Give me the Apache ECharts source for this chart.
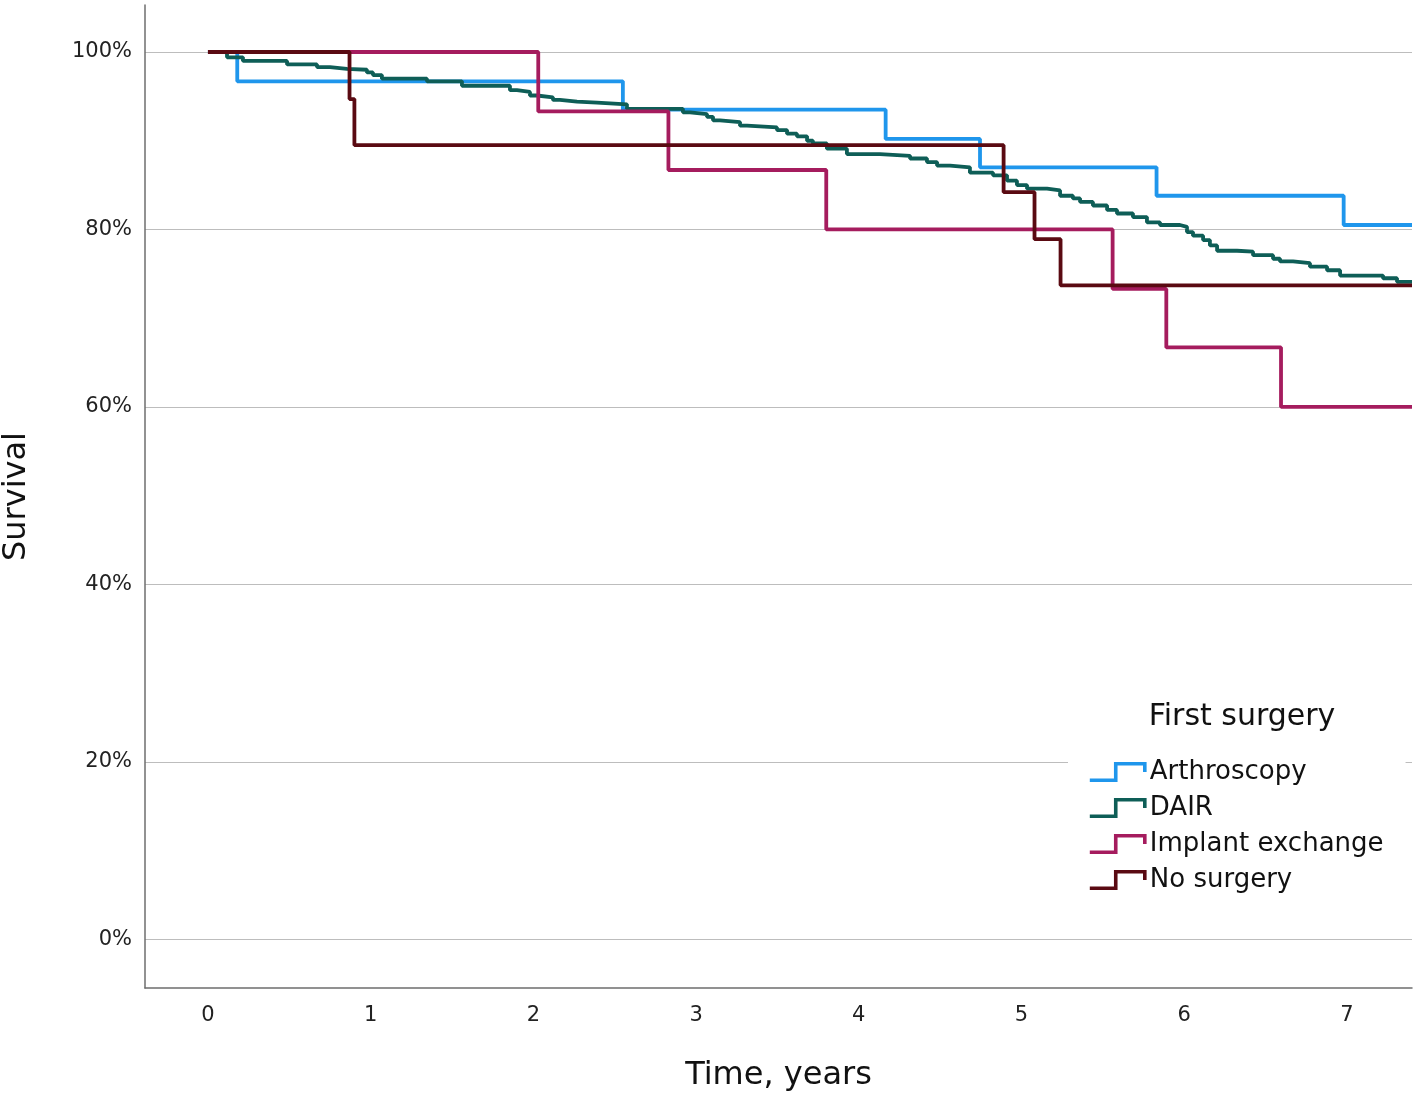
<!DOCTYPE html>
<html>
<head>
<meta charset="utf-8">
<script src="https://cdn.jsdelivr.net/npm/echarts@6/dist/echarts.min.js"></script>
<style>
  html, body { margin: 0; padding: 0; background: #fff; }
  #main { width: 1416px; height: 1102px; }
</style>
</head>
<body>
<div id="main"></div>
<script>
// group names and colours
var groups = ['Arthroscopy', 'DAIR', 'Implant exchange', 'No surgery'];
var colors = ['#1f96ec', '#0e5e57', '#a51c5e', '#5a0a12'];

// survival curves (time in years, survival in %)
var arthTime = [0, 0.18, 2.55, 4.165, 4.745, 5.83, 6.98, 7.4];
var arthSurv = [100, 96.7, 93.5, 90.2, 87.0, 83.8, 80.5, 80.5];

var dairTime = [0, 0.117, 0.215, 0.486, 0.670, 0.750, 0.854, 0.977, 1.014, 1.069, 1.346, 1.561,
  1.856, 1.899, 1.979, 2.022, 2.120, 2.163, 2.268, 2.391, 2.575, 2.919, 2.963, 3.067, 3.104,
  3.147, 3.270, 3.313, 3.497, 3.559, 3.620, 3.682, 3.718, 3.804, 3.927, 4.130, 4.315, 4.419,
  4.481, 4.561, 4.683, 4.825, 4.911, 4.972, 5.034, 5.157, 5.237, 5.316, 5.360, 5.439, 5.526,
  5.587, 5.685, 5.771, 5.851, 5.974, 6.017, 6.054, 6.116, 6.158, 6.202, 6.325, 6.423, 6.546,
  6.589, 6.669, 6.773, 6.878, 6.958, 7.222, 7.308, 7.4];
var dairSurv = [100, 99.4, 99.0, 98.6, 98.3, 98.1, 98.0, 97.7, 97.4, 97.0, 96.7, 96.2,
  95.7, 95.5, 95.1, 94.9, 94.6, 94.4, 94.3, 94.1, 93.6, 93.2, 93.0, 92.7, 92.3,
  92.1, 91.7, 91.5, 91.2, 90.8, 90.5, 90.0, 89.7, 89.1, 88.5, 88.3, 88.0, 87.6,
  87.2, 87.0, 86.4, 86.1, 85.5, 85.0, 84.6, 84.4, 83.8, 83.5, 83.1, 82.7, 82.2,
  81.8, 81.4, 80.8, 80.5, 80.3, 79.7, 79.3, 78.8, 78.2, 77.6, 77.5, 77.1, 76.7,
  76.4, 76.2, 75.8, 75.4, 74.8, 74.5, 74.1, 74.1];

var implTime = [0, 2.03, 2.83, 3.80, 5.56, 5.89, 6.595, 7.4];
var implSurv = [100, 93.3, 86.7, 80.0, 73.3, 66.7, 60.0, 60.0];

var noneTime = [0, 0.87, 0.90, 4.89, 5.08, 5.24, 7.4];
var noneSurv = [100, 94.7, 89.5, 84.2, 78.9, 73.7, 73.7];

// axis ticks
var xTicks = [0, 1, 2, 3, 4, 5, 6, 7];
var yTicks = [0, 20, 40, 60, 80, 100];

function pairs(t, s) {
  return t.map(function (v, i) { return [v, s[i]]; });
}

var curves = [
  pairs(arthTime, arthSurv),
  pairs(dairTime, dairSurv),
  pairs(implTime, implSurv),
  pairs(noneTime, noneSurv)
];

var chart = echarts.init(document.getElementById('main'), null, { renderer: 'canvas' });

var option = {
  animation: false,
  backgroundColor: '#fff',
  color: colors,
  title: {
    text: 'First surgery',
    left: 1237,
    top: 697,
    textAlign: 'center',
    textStyle: {
      fontFamily: 'DejaVu Sans',
      fontSize: 30,
      fontWeight: 'normal',
      color: '#111'
    }
  },
  legend: {
    orient: 'vertical',
    left: 1068,
    top: 753,
    padding: [6, 22, 6, 20],
    backgroundColor: '#fff',
    itemWidth: 55,
    itemHeight: 18,
    itemGap: 10,
    selectedMode: false,
    icon: 'path://M0,18 L25,18 L25,2 L53,2 L53,10',
    textStyle: {
      fontFamily: 'DejaVu Sans',
      fontSize: 26,
      lineHeight: 26,
      color: '#111'
    },
    data: groups.map(function (g, i) {
      return {
        name: g,
        itemStyle: { color: 'transparent', borderColor: colors[i], borderWidth: 3.6 }
      };
    })
  },
  grid: {
    left: 145,
    right: 4,
    top: 5,
    bottom: 114,
    outerBoundsMode: 'none'
  },
  xAxis: {
    type: 'value',
    min: -0.387,
    max: 7.4,
    name: 'Time, years',
    nameLocation: 'middle',
    nameGap: 72,
    nameTextStyle: { fontFamily: 'DejaVu Sans', fontSize: 32, color: '#111' },
    axisLine: { show: true, onZero: false, lineStyle: { color: '#6e6e6e', width: 1.5 } },
    axisTick: { show: false, customValues: xTicks },
    axisLabel: {
      customValues: xTicks,
      margin: 17,
      fontFamily: 'DejaVu Sans',
      fontSize: 21,
      color: '#222'
    },
    splitLine: { show: false }
  },
  yAxis: {
    type: 'value',
    min: -5.5,
    max: 105.3,
    name: 'Survival',
    nameLocation: 'middle',
    nameGap: 112,
    nameTextStyle: { fontFamily: 'DejaVu Sans', fontSize: 32, color: '#111' },
    axisLine: { show: true, onZero: false, lineStyle: { color: '#6e6e6e', width: 1.5 } },
    axisTick: { show: false, customValues: yTicks },
    axisLabel: {
      customValues: yTicks,
      margin: 13,
      padding: [6, 0, 0, 0],
      fontFamily: 'DejaVu Sans',
      fontSize: 21,
      color: '#222',
      formatter: '{value}%'
    },
    splitLine: { show: true, lineStyle: { color: '#bdbdbd', width: 1.2 } }
  },
  series: groups.map(function (g, i) {
    return {
      name: g,
      type: 'line',
      step: 'end',
      showSymbol: false,
      symbol: 'none',
      lineStyle: { width: 3.8, color: colors[i] },
      itemStyle: { color: colors[i] },
      data: curves[i]
    };
  })
};

chart.setOption(option);
</script>
</body>
</html>
